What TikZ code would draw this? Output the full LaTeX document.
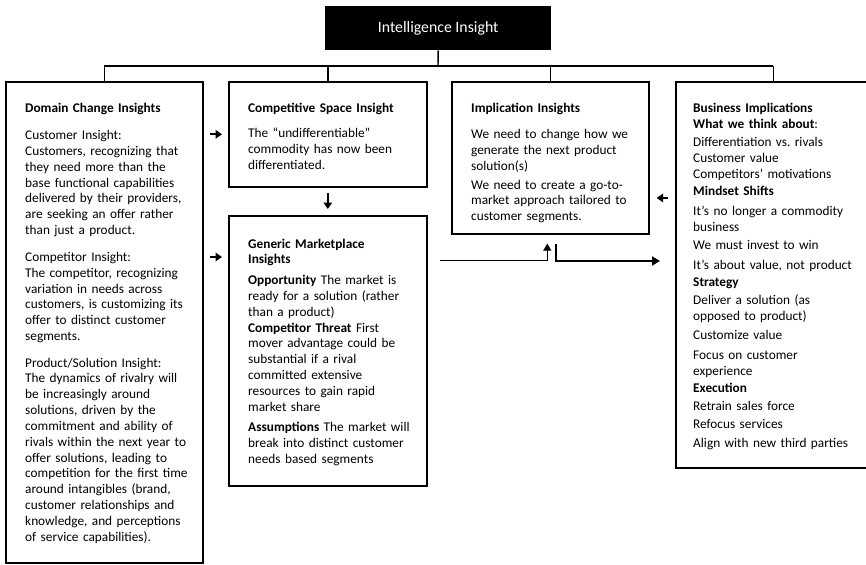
\documentclass[tikz,border=0pt]{standalone}
\usepackage{fontspec}
\setmainfont{Carlito}
\usepackage{tikz}
\usetikzlibrary{arrows.meta}
\usetikzlibrary{calc}
\frenchspacing

\tikzset{
  box/.style={draw, line width=1.6pt, anchor=north west, inner sep=0pt},
  body/.style={anchor=base west, align=left, inner sep=0pt,
    font=\fontsize{13.3}{15.8}\selectfont},
  tree/.style={line width=1.4pt},
  flow/.style={-{Triangle[length=6.5pt,width=8.5pt]}, line width=1.9pt},
}

\begin{document}
\begin{tikzpicture}[x=1pt,y=-1pt]

    \useasboundingbox (0,0) rectangle (866,564);

    % Draw the top box
    \node[fill=black, anchor=north west, inner sep=0pt, minimum width=226pt, minimum height=44pt,
      text=white, font=\fontsize{15.8}{18}\selectfont] (intel) at (325,6) {Intelligence Insight};

    % Draw the boxes
    \node[box, minimum width=197pt, minimum height=481pt] (domain) at (5,81) {};
    \node[box, minimum width=198pt, minimum height=105pt] (compet) at (228,81) {};
    \node[box, minimum width=198pt, minimum height=270pt] (generic) at (228,215) {};
    \node[box, minimum width=197pt, minimum height=152pt] (implic) at (451,81) {};
    \node[box, minimum width=195pt, minimum height=386pt] (business) at (675,81) {};

    % Draw the tree lines
    \coordinate (split) at (438,66);
    \draw[tree] (intel.south) -- (split);
    \draw[tree] (split -| domain.north) -- (split -| business.north);
    \foreach \b in {domain, compet, implic, business}
      \draw[tree] (split -| \b.north) -- (\b.north);

    % Draw the arrows between boxes
    \draw[flow] ($(compet.west -| domain.east)+(6,0)$) -- ($(compet.west)+(-6,0)$);
    \draw[flow] ($(generic.north west -| domain.east)+(6,42)$) -- ($(generic.north west)+(-6,42)$);
    \draw[flow] ($(compet.south)+(0,5)$) -- ($(generic.north)+(0,-6)$);
    \draw[flow] ($(business.north west)+(-7,117)$) -- ($(implic.north east)+(7,117)$);

    % Draw the feed line into the implications
    \coordinate (feed) at (440,260);
    \draw[line width=1pt, -{Triangle[length=7pt,width=8pt]}] (feed) -| ($(implic.south)+(-3,9)$);
    \draw[line width=2.2pt, -{Triangle[length=8pt,width=9pt]}] ($(implic.south)+(6,9)$) |- ($(business.north west)+(-15,180)$);

    % Label the boxes
    \node[body, text width=180pt] (domaintxt) at ($(domain.north west)+(20,32)$) {%
      \textbf{Domain Change Insights}\\[11pt]
      Customer Insight:\\
      Customers, recognizing that\\
      they need more than the\\
      base functional capabilities\\
      delivered by their providers,\\
      are seeking an offer rather\\
      than just a product.\\[11pt]
      Competitor Insight:\\
      The competitor, recognizing\\
      variation in needs across\\
      customers, is customizing its\\
      offer to distinct customer\\
      segments.\\[11pt]
      Product/Solution Insight:\\
      The dynamics of rivalry will\\
      be increasingly around\\
      solutions, driven by the\\
      commitment and ability of\\
      rivals within the next year to\\
      offer solutions, leading to\\
      competition for the first time\\
      around intangibles (brand,\\
      customer relationships and\\
      knowledge, and perceptions\\
      of service capabilities).};

    \node[body, text width=175pt] (complettxt) at ($(compet.north west)+(20,32)$) {%
      \textbf{Competitive Space Insight}\\[9pt]
      The “undifferentiable”\\
      commodity has now been\\
      differentiated.};

    \node[body, text width=175pt] (generictxt) at ($(generic.north west)+(20,33)$) {%
      \textbf{Generic Marketplace}\\
      \textbf{Insights}\\[5pt]
      \textbf{Opportunity} The market is\\
      ready for a solution (rather\\
      than a product)\\
      \textbf{Competitor Threat} First\\
      mover advantage could be\\
      substantial if a rival\\
      committed extensive\\
      resources to gain rapid\\
      market share\\[5pt]
      \textbf{Assumptions} The market will\\
      break into distinct customer\\
      needs based segments};

    \node[body, text width=175pt] (implictxt) at ($(implic.north west)+(20,32)$) {%
      \textbf{Implication Insights}\\[10pt]
      We need to change how we\\
      generate the next product\\
      solution(s)\\[3pt]
      We need to create a go-to-\\
      market approach tailored to\\
      customer segments.};

    \node[body, text width=175pt] (businesstxt) at ($(business.north west)+(18,32)$) {%
      \textbf{Business Implications}\\
      \textbf{What we think about}:\\[2pt]
      Differentiation vs. rivals\\
      Customer value\\
      Competitors’ motivations\\[2pt]
      \textbf{Mindset Shifts}\\[4pt]
      It’s no longer a commodity\\
      business\\[2pt]
      We must invest to win\\[4pt]
      It’s about value, not product\\[2pt]
      \textbf{Strategy}\\[2pt]
      Deliver a solution (as\\
      opposed to product)\\[3pt]
      Customize value\\[4pt]
      Focus on customer\\
      experience\\[2pt]
      \textbf{Execution}\\[2pt]
      Retrain sales force\\[2pt]
      Refocus services\\[3pt]
      Align with new third parties};
\end{tikzpicture}
\end{document}
